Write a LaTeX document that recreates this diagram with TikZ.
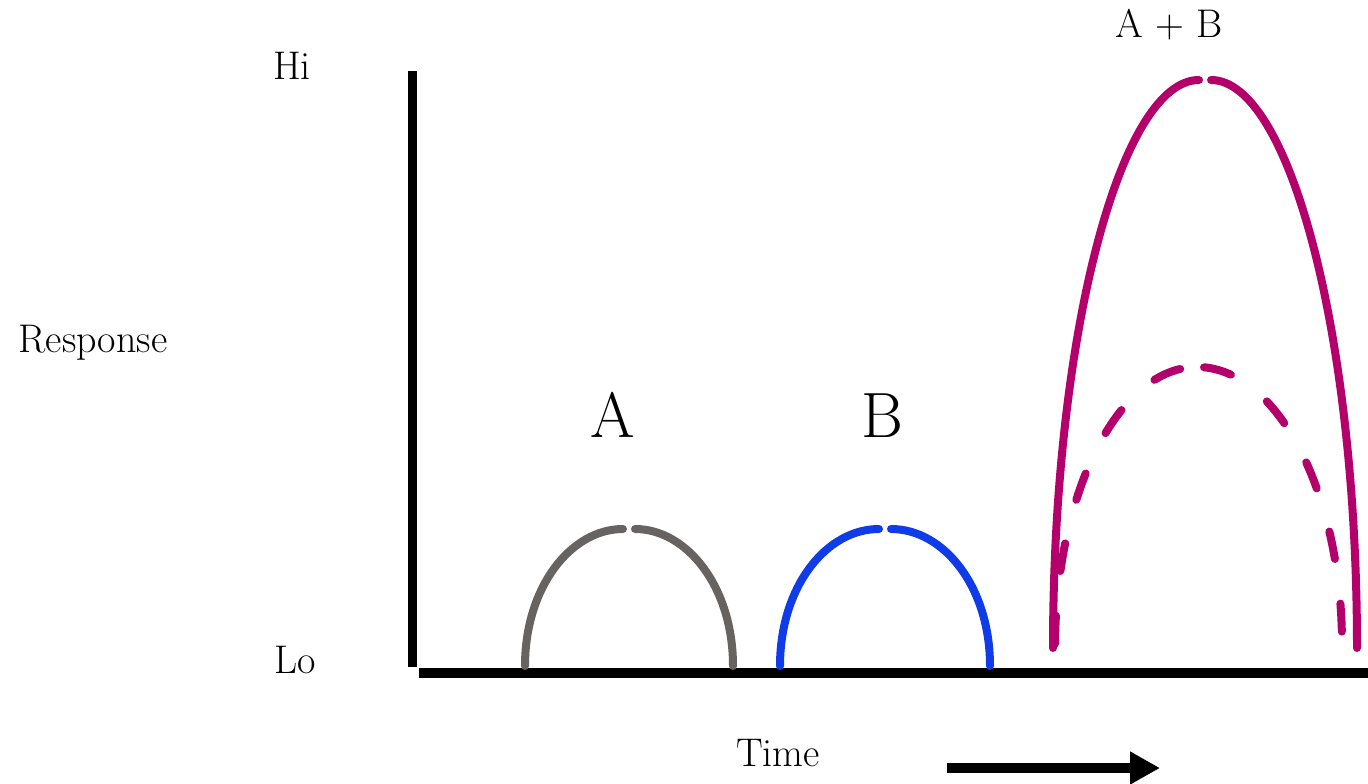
\documentclass[tikz,border=0pt]{standalone}
\usepackage{tikz}
\usetikzlibrary{arrows.meta}

\definecolor{humpgray}{RGB}{103,99,97}
\definecolor{humpblue}{RGB}{15,60,232}
\definecolor{humpmag}{RGB}{180,0,106}

\begin{document}
\begin{tikzpicture}[
  x=1pt, y=-1pt,
  lbl/.style={anchor=base, inner sep=0pt, font=\fontsize{40}{48}\selectfont},
  biglbl/.style={anchor=base, inner sep=0pt, font=\fontsize{64}{76}\selectfont},
  axis/.style={line width=10pt, line cap=butt},
  hump/.style={line width=8pt, line cap=round},
  halfdash/.style={hump, dash pattern=on 28pt off 45pt}
]
  \useasboundingbox (0,0) rectangle (1368,784);

  % axes
  \coordinate (top) at (412.5,71);
  \coordinate (origin) at (412.5,667);
  \coordinate (xstart) at (419,673);
  \coordinate (xend) at (1368,673);
  \draw[axis, line width=9pt] (top) -- (origin);
  \draw[axis] (xstart) -- (xend);

  \node[lbl] (hi) at (292,79) {Hi};
  \node[lbl] (lo) at (295,673) {Lo};
  \node[lbl] (resp) at (93,352) {Response};
  \node[lbl] (time) at (778,766) {Time};

  % time arrow
  \coordinate (tstart) at (947,768);
  \coordinate (tend) at (1160,768);
  \draw[line width=10pt, -{Triangle[length=30pt,width=31pt]}] (tstart) -- (tend);

  % response A
  \node[biglbl] (a) at (613,437) {A};
  \draw[hump, humpgray] (525,666) .. controls (525,587) and (571,529) .. (623,529);
  \draw[hump, humpgray] (635,529) .. controls (687,529) and (733,587) .. (733,666);

  % response B
  \node[biglbl] (b) at (882,437) {B};
  \draw[hump, humpblue] (780,666) .. controls (780,587) and (826,529) .. (879,529);
  \draw[hump, humpblue] (891,529) .. controls (944,529) and (990,587) .. (990,666);

  % A + B together
  \node[lbl] (ab) at (1169,38) {A + B};
  \draw[hump, humpmag] (1053,648) .. controls (1053,333) and (1121,80) .. (1199,80);
  \draw[hump, humpmag] (1211,80) .. controls (1289,80) and (1357,333) .. (1357,648);

  % expected sum (dashed)
  \draw[halfdash, humpmag, dash phase=56pt] (1197,367) .. controls (1119,367) and (1055,492) .. (1055,648);
  \draw[halfdash, humpmag, dash phase=66pt] (1197,367) .. controls (1277,367) and (1342,492) .. (1342,645);
\end{tikzpicture}
\end{document}
